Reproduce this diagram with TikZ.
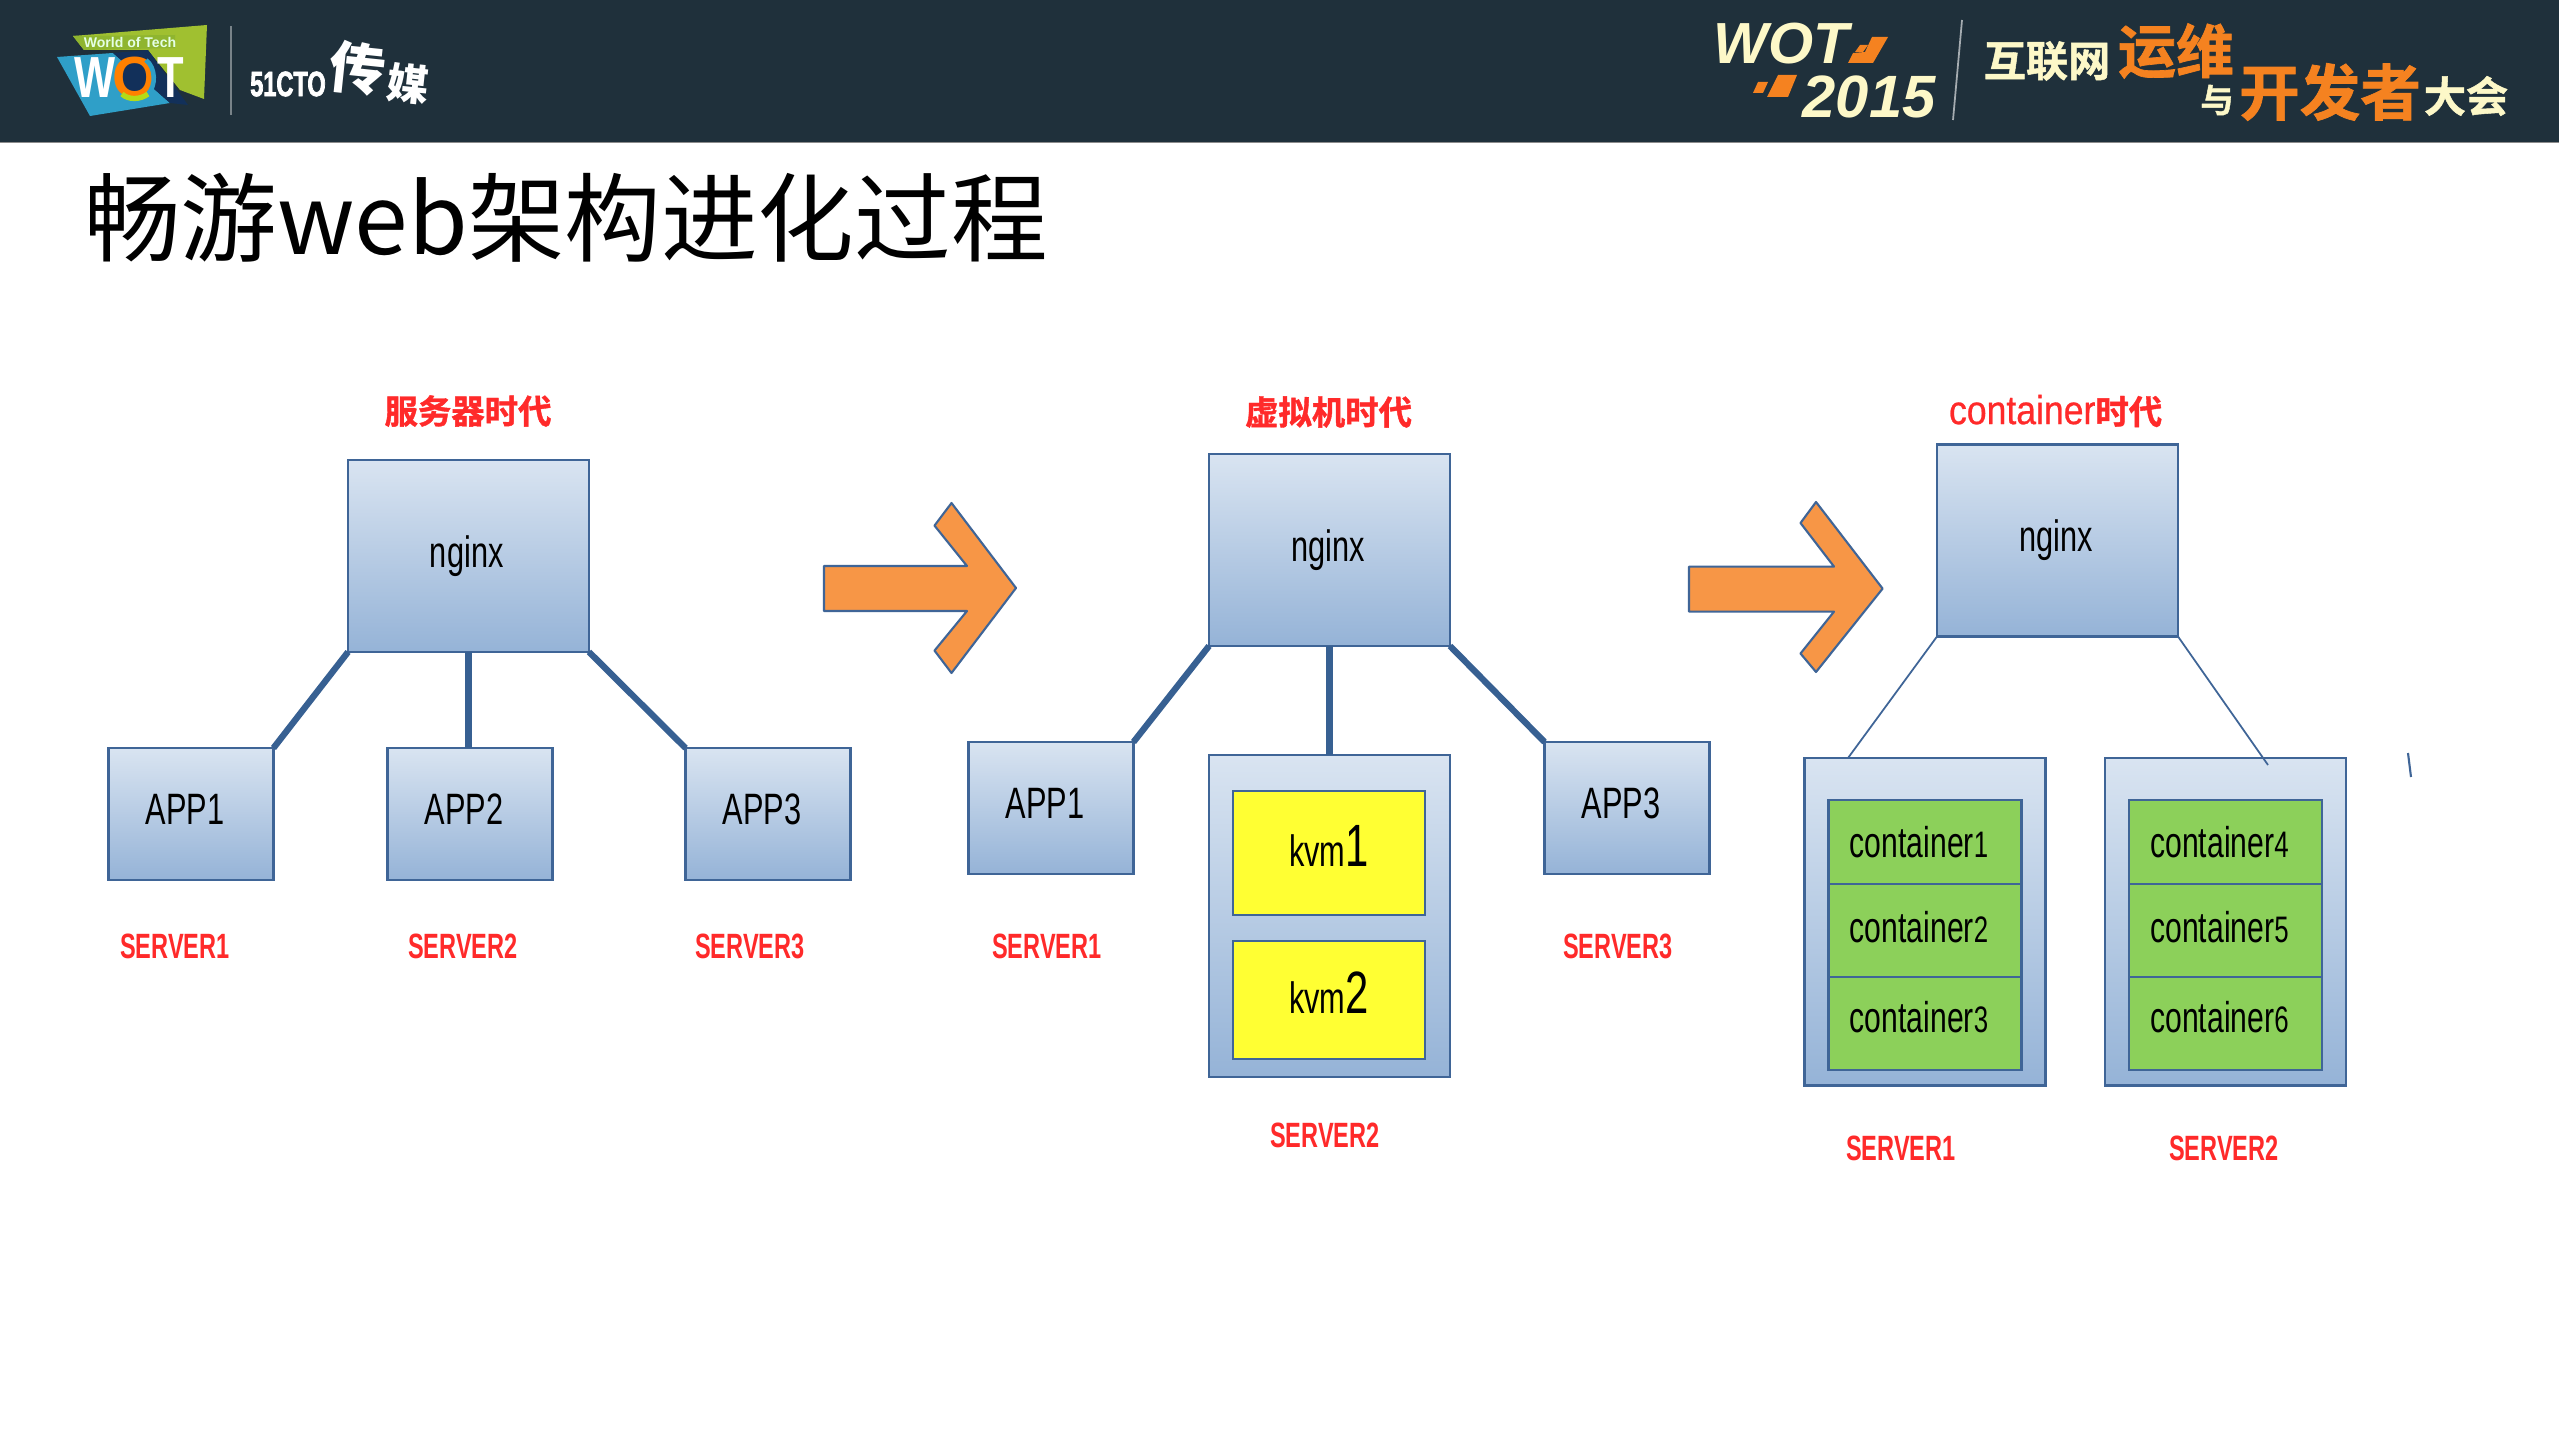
\documentclass[tikz,border=0pt]{standalone}
\usepackage{fontspec}
\setmainfont{Liberation Sans}
\newfontfamily\cjkfont{Noto Sans CJK SC}
\newfontfamily\cjkheavy[FakeBold=1.2]{Noto Sans CJK SC Bold}
\newfontfamily\labelfont[FakeStretch=0.7]{Liberation Sans}
\newfontfamily\labelbold[FakeStretch=0.75]{Liberation Sans Bold}
\newfontfamily\serverfont[FakeStretch=0.67]{Liberation Sans Bold}
\newfontfamily\ctologofont[FakeStretch=0.67,FakeBold=2]{Liberation Sans Bold}
\newfontfamily\eraLatin[FakeStretch=0.88,FakeBold=0.6]{Liberation Sans}
\definecolor{headbg}{HTML}{1F303B}
\definecolor{boxtop}{HTML}{D9E4F1}
\definecolor{boxbot}{HTML}{95B3D7}
\definecolor{boxline}{HTML}{3F6597}
\definecolor{linkblue}{HTML}{376092}
\definecolor{arrowfill}{HTML}{F79646}
\definecolor{kvmfill}{HTML}{FFFF33}
\definecolor{ctfill}{HTML}{8CD05A}
\definecolor{redtxt}{HTML}{FF2A2A}
\definecolor{cream}{HTML}{FDF8C8}
\definecolor{wotorange}{HTML}{F58220}
\definecolor{wotgreen}{HTML}{A0C030}
\definecolor{wotband}{HTML}{8FB52F}
\definecolor{wotblue}{HTML}{2F9FC8}
\definecolor{wotnavy}{HTML}{12305A}
\tikzset{
	box/.style={draw=boxline, line width=1.4pt, top color=boxtop, bottom color=boxbot, inner sep=0pt, outer sep=0pt, font=\labelfont\fontsize{25}{25}\selectfont},
	bigbox/.style={box, minimum width=4.82cm, minimum height=3.84cm, execute at end node={\kern2pt}},
	appbox/.style={box, minimum width=3.3cm, minimum height=2.64cm, text depth=5.7pt, execute at end node={\kern7pt}},
	kvmbox/.style={draw=boxline, line width=1.4pt, fill=kvmfill, inner sep=0pt, outer sep=0pt, minimum width=3.85cm, text depth=8pt, font=\labelfont\fontsize{25}{25}\selectfont},
	ctbox/.style={draw=boxline, line width=1.2pt, fill=ctfill, inner sep=0pt, outer sep=0pt, minimum width=3.86cm, execute at end node={\kern6.8pt}, font=\labelfont\fontsize{24.5}{24.5}\selectfont},
	servertxt/.style={text=redtxt, inner sep=0pt, font=\serverfont\fontsize{20}{20}\selectfont},
	eratxt/.style={text=redtxt, inner sep=0pt, font=\cjkheavy\fontsize{19}{19}\selectfont},
	link/.style={draw=linkblue, line width=3.6pt},
	thinlink/.style={draw=boxline, line width=1pt},
	bigarrow/.style={draw=boxline, line width=1.2pt, fill=arrowfill, line join=round},
	headtxt/.style={inner sep=0pt},
}
\begin{document}
\begin{tikzpicture}[x=0.02cm, y=-0.02cm]
	\useasboundingbox (0,0) rectangle (2559,1439);
	\fill[white] (0,0) rectangle (2559,1439);

	% header bar
	\fill[headbg] (0,0) rectangle (2559,142);
	\fill[black!45] (0,142) rectangle (2559,143.5);

	% left logo
	\fill[wotgreen] (73,36) -- (207,25) -- (204,99) -- (180,90) -- (148,50) -- (84,50) -- cycle;
	\fill[wotband] (73,36) -- (175,35) -- (175,48) -- (84,50) -- cycle;
	\fill[wotblue] (57,57) -- (113,53) -- (170,103) -- (90,116) -- cycle;
	\fill[wotnavy] (113,53) -- (148,50) -- (188,105) -- (170,103) -- cycle;
	\fill[wotnavy] (135,78) circle[radius=18];
	\node[inner sep=0pt, text=white!90!green, font=\bfseries\fontsize{8}{8}\selectfont] (wotsub) at (130,42) {World of Tech};
	\node[inner sep=0pt, text=white, font=\labelbold\fontsize{33}{33}\selectfont] (wotw) at (95,78) {W};
	\node[inner sep=0pt, text=orange, font=\bfseries\fontsize{33}{33}\selectfont] (woto) at (135,78) {O};
	\node[inner sep=0pt, text=white, font=\labelbold\fontsize{33}{33}\selectfont] (wott) at (171,78) {T};
	\draw[wotblue, line width=2.6pt] (146,60) .. controls (156,68) and (156,86) .. (148,94);
	\draw[yellow!70!green, line width=3pt] (122,94) .. controls (128,100) and (140,100) .. (148,94);
	\draw[white!40!headbg, line width=1pt] (231,26) -- (231,115);
	\node[inner sep=0pt, text=white, font=\ctologofont\fontsize{20}{20}\selectfont] (ctologo) at (288,84) {51CTO};
	\node[inner sep=0pt, text=white, font=\cjkfont\bfseries\fontsize{32}{32}\selectfont, rotate=-6] (chuan) at (358,68) {传};
	\node[inner sep=0pt, text=white, font=\cjkfont\bfseries\fontsize{24}{24}\selectfont, rotate=-6] (mei) at (408,84) {媒};

	% right logo
	\node[inner sep=0pt, text=cream, font=\bfseries\itshape\fontsize{33}{33}\selectfont] (wotname) at (1781,44) {WOT};
	\node[inner sep=0pt, text=cream, font=\bfseries\itshape\fontsize{34}{34}\selectfont] (wotyear) at (1869,96.5) {2015};
	\fill[wotorange] (1860,45) -- (1868,45) -- (1863,52) -- (1855,52) -- cycle;
	\fill[wotorange] (1872,37) -- (1888,37) -- (1873,63) -- (1848,63) -- (1853,53) -- (1865,52) -- cycle;
	\fill[wotorange] (1758,82) -- (1768,82) -- (1763,93) -- (1753,93) -- cycle;
	\fill[wotorange] (1778,75) -- (1797,75) -- (1788,97) -- (1767,97) -- cycle;
	\draw[white!60!headbg, line width=1pt] (1962,20) -- (1953,120);
	\node[headtxt, text=cream, font=\cjkheavy\fontsize{24}{24}\selectfont] (confa) at (2047,61) {互联网};
	\node[headtxt, text=wotorange, font=\cjkheavy\fontsize{33}{33}\selectfont] (confb) at (2176,51) {运维};
	\node[headtxt, text=cream, font=\cjkheavy\fontsize{19}{19}\selectfont] (confc) at (2217,100) {与};
	\node[headtxt, text=wotorange, font=\cjkheavy\fontsize{34.5}{34.5}\selectfont] (confd) at (2330,92) {开发者};
	\node[headtxt, text=cream, font=\cjkheavy\fontsize{24}{24}\selectfont] (confe) at (2466,96) {大会};

	% slide title
	\node[inner sep=0pt, anchor=west, font=\cjkfont\fontsize{55}{55}\selectfont] (slidetitle) at (84,218) {畅游web架构进化过程};

	% server era
	\node[eratxt] (eraa) at (468,411) {服务器时代};
	\node[bigbox] (nginxa) at (468.5,556) {nginx};
	\node[appbox] (appa) at (191,814) {APP1};
	\node[appbox] (appb) at (470,814) {APP2};
	\node[appbox] (appc) at (768,814) {APP3};
	\draw[link] (nginxa.south west) -- (appa.north east);
	\draw[link] (nginxa.south) -- (nginxa.south |- appb.north);
	\draw[link] (nginxa.south east) -- (appc.north west);
	\node[servertxt] (sera) at (175,946) {SERVER1};
	\node[servertxt] (serb) at (463,946) {SERVER2};
	\node[servertxt] (serc) at (750,946) {SERVER3};

	% arrows
	\draw[bigarrow] (824,566) -- (967,566) -- (934.5,525.6) -- (951.5,503) -- (1016,588) -- (951.5,673) -- (934.5,650.6) -- (967,611) -- (824,611) -- cycle;
	\draw[bigarrow] (1689,566.6) -- (1834,566.6) -- (1800.5,523) -- (1816,502) -- (1882.6,588.6) -- (1816,672) -- (1800.5,653.5) -- (1834,611.6) -- (1689,611.6) -- cycle;

	% kvm era
	\node[eratxt] (erab) at (1328.5,412) {虚拟机时代};
	\node[bigbox] (nginxb) at (1329.5,550) {nginx};
	\node[appbox] (appd) at (1051,808) {APP1};
	\node[box, minimum width=4.82cm, minimum height=6.44cm] (hostb) at (1329.5,916) {};
	\node[appbox] (appe) at (1627,808) {APP3};
	\node[kvmbox, minimum height=2.48cm] (kvma) at (1329,853) {kvm{\fontsize{34}{34}\selectfont 1}};
	\node[kvmbox, minimum height=2.36cm] (kvmb) at (1329,1000) {kvm{\fontsize{34}{34}\selectfont 2}};
	\draw[link] (nginxb.south west) -- (appd.north east);
	\draw[link] (nginxb.south) -- (hostb.north);
	\draw[link] (nginxb.south east) -- (appe.north west);
	\node[servertxt] (serd) at (1047,946.5) {SERVER1};
	\node[servertxt] (sere) at (1325,1135) {SERVER2};
	\node[servertxt] (serf) at (1618,946.5) {SERVER3};

	% container era
	\node[inner sep=0pt, text=redtxt, font=\cjkheavy\fontsize{19}{19}\selectfont] (erac) at (2055.6,411) {{\eraLatin\fontsize{23}{23}\selectfont container}时代};
	\node[bigbox] (nginxc) at (2057.5,540.5) {nginx};
	\node[box, minimum width=4.82cm, minimum height=6.55cm] (hostc) at (1925,921.75) {};
	\node[box, minimum width=4.82cm, minimum height=6.55cm] (hostd) at (2225.5,921.75) {};
	\node[ctbox, minimum height=1.672cm] (cta) at (1925,841.8) {container{\fontsize{21}{21}\selectfont 1}};
	\node[ctbox, minimum height=1.862cm, text depth=3.4pt] (ctb) at (1925,930.2) {container{\fontsize{21}{21}\selectfont 2}};
	\node[ctbox, minimum height=1.866cm, text depth=6.8pt] (ctc) at (1925,1023.3) {container{\fontsize{21}{21}\selectfont 3}};
	\node[ctbox, minimum height=1.672cm] (ctd) at (2225.5,841.8) {container{\fontsize{21}{21}\selectfont 4}};
	\node[ctbox, minimum height=1.862cm, text depth=3.4pt] (cte) at (2225.5,930.2) {container{\fontsize{21}{21}\selectfont 5}};
	\node[ctbox, minimum height=1.866cm, text depth=6.8pt] (ctf) at (2225.5,1023.3) {container{\fontsize{21}{21}\selectfont 6}};
	\coordinate (linkc) at (1848,758);
	\coordinate (linkd) at (2268,765);
	\draw[thinlink] (nginxc.south west) -- (linkc);
	\draw[thinlink] (nginxc.south east) -- (linkd);
	\node[servertxt] (serg) at (1901,1148) {SERVER1};
	\node[servertxt] (serh) at (2224,1148) {SERVER2};

	% stray tick at the right
	\draw[boxline, line width=1.2pt] (2408,753) -- (2411,777);
\end{tikzpicture}
\end{document}
